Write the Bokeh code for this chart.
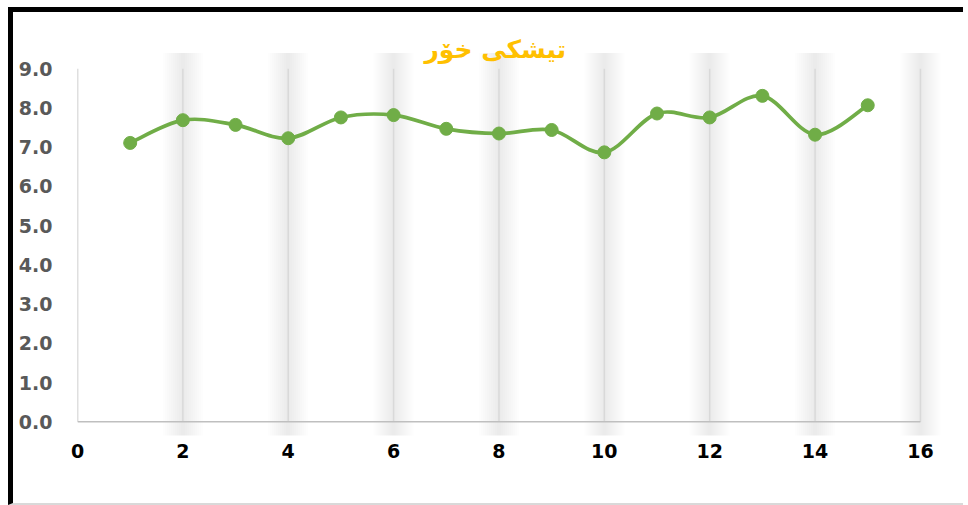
from bokeh.plotting import figure
from bokeh.embed import file_html
from bokeh.resources import INLINE
from bokeh.models import Range1d, FixedTicker, Label

# ---- data ----
x_vals = [1, 2, 3, 4, 5, 6, 7, 8, 9, 10, 11, 12, 13, 14, 15]
y_vals = [7.11, 7.69, 7.57, 7.23, 7.76, 7.82, 7.47, 7.35, 7.44, 6.87, 7.86, 7.76, 8.31, 7.32, 8.07]
x_ticks = [0, 2, 4, 6, 8, 10, 12, 14, 16]
y_ticks = [0, 1, 2, 3, 4, 5, 6, 7, 8, 9]
grid_x = [2, 4, 6, 8, 10, 12, 14, 16]
title_text = "تیشکی خۆر"

GREEN = "#70AD47"
FONT = "DejaVu Sans"

p = figure(width=955, height=498, output_backend="svg", toolbar_location=None,
           x_range=Range1d(0, 16.4), y_range=Range1d(-0.4, 9.9),
           min_border_left=64, min_border_right=27, min_border_top=21, min_border_bottom=73)
p.styles = {"margin-left": "8px", "margin-top": "7px",
            "border-left": "5px solid black", "border-top": "5px solid black",
            "border-bottom": "2px solid #d9d9d9"}

p.outline_line_color = None
p.xgrid.grid_line_color = None
p.ygrid.grid_line_color = None
p.background_fill_color = "white"
p.border_fill_color = "white"

# axes
for ax in (p.xaxis, p.yaxis):
    ax.axis_line_color = None
    ax.major_tick_line_color = None
    ax.minor_tick_line_color = None
    ax.major_tick_out = 0
    ax.major_tick_in = 0
    ax.major_label_text_font = FONT
    ax.major_label_text_font_size = "19px"
    ax.major_label_text_font_style = "bold"
p.xaxis.ticker = FixedTicker(ticks=x_ticks)
p.yaxis.ticker = FixedTicker(ticks=y_ticks)
p.xaxis.major_label_text_color = "black"
p.yaxis.major_label_text_color = "#595959"
p.yaxis.major_label_overrides = {t: f"{t:.1f}" for t in y_ticks}
p.xaxis.major_label_standoff = 6
p.yaxis.major_label_standoff = 25

# soft shadows around vertical gridlines
y_lo = [y_ticks[0] - 0.35] * len(grid_x)
y_hi = [y_ticks[-1] + 0.4] * len(grid_x)
for w in range(40, 2, -4):
    p.segment(x0=grid_x, y0=y_lo, x1=grid_x, y1=y_hi, line_color="#808080",
              line_alpha=0.017, line_width=w, line_cap="butt")

# gridlines
y0s = [y_ticks[0]] * len(grid_x)
y1s = [y_ticks[-1]] * len(grid_x)
p.segment(x0=grid_x, y0=y0s, x1=grid_x, y1=y1s, line_color="#d9d9d9", line_width=1.5)

# axis lines
p.segment(x0=[x_ticks[0]], y0=[y_ticks[0]], x1=[x_ticks[0]], y1=[y_ticks[-1]],
          line_color="#bfbfbf", line_width=1.5)
p.segment(x0=[x_ticks[0]], y0=[y_ticks[0]], x1=[x_ticks[-1]], y1=[y_ticks[0]],
          line_color="#bfbfbf", line_width=1.5)

# smoothed line via bezier (Catmull-Rom control points from data)
n = len(x_vals)
bx0, by0, bx1, by1, cx0, cy0, cx1, cy1 = [], [], [], [], [], [], [], []
for i in range(n - 1):
    xp, yp = (x_vals[i - 1], y_vals[i - 1]) if i > 0 else (x_vals[i], y_vals[i])
    xn, yn = (x_vals[i + 2], y_vals[i + 2]) if i + 2 < n else (x_vals[i + 1], y_vals[i + 1])
    bx0.append(x_vals[i]); by0.append(y_vals[i])
    bx1.append(x_vals[i + 1]); by1.append(y_vals[i + 1])
    cx0.append(x_vals[i] + (x_vals[i + 1] - xp) / 6)
    cy0.append(y_vals[i] + (y_vals[i + 1] - yp) / 6)
    cx1.append(x_vals[i + 1] - (xn - x_vals[i]) / 6)
    cy1.append(y_vals[i + 1] - (yn - y_vals[i]) / 6)
p.bezier(x0=bx0, y0=by0, x1=bx1, y1=by1, cx0=cx0, cy0=cy0, cx1=cx1, cy1=cy1,
         line_color=GREEN, line_width=3.7)

p.scatter(x_vals, y_vals, size=13, fill_color=GREEN, line_color=GREEN)

# title
p.add_layout(Label(x=7.93, y=9.49, text=title_text, text_align="center",
                   text_baseline="middle", text_color="#FFC000", text_font=FONT,
                   text_font_size="25px", text_font_style="bold"))

open("out.html", "w").write(file_html(p, INLINE))
